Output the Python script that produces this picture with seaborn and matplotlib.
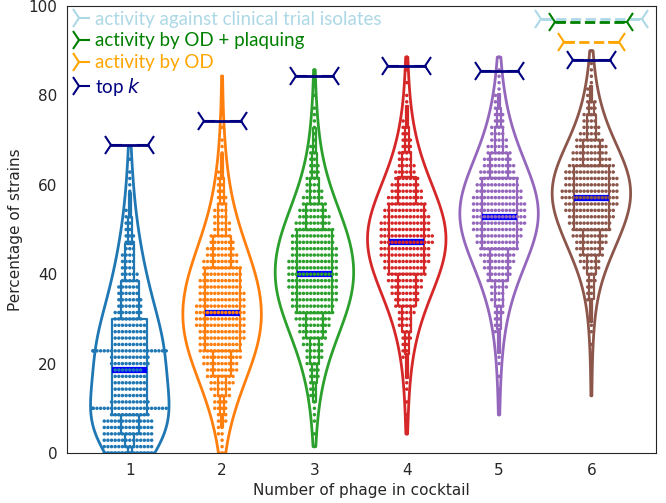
import numpy as np
import pandas as pd
import matplotlib
matplotlib.use("Agg")
import matplotlib.pyplot as plt
from matplotlib.lines import Line2D
import seaborn as sns

# 每组鸡尾酒覆盖的菌株数（占 n_strains 的比例），按 k 计数
n_strains = 70
cocktail_sizes = ["1", "2", "3", "4", "5", "6"]
k_start = [0, 0, 1, 3, 6, 9]

counts_1 = [14, 14, 14, 14, 14, 14, 11, 22, 11, 9, 9, 9, 9, 8,
            11, 11, 22, 9, 9, 9, 9,
            8, 8, 7, 7, 6, 6, 5, 5, 4, 4, 4, 3, 3, 3, 2, 2, 2, 2,
            1, 1, 1, 1, 1, 1, 0, 1, 0, 1]
counts_2 = [1, 1, 1, 2, 2, 3, 3, 4, 4, 5, 6, 7, 8, 9, 10, 11, 12, 12, 13, 13,
            14, 14, 14, 14, 13, 13, 12, 12, 11, 11, 10, 9, 8, 7, 6, 5, 5, 4, 4, 3,
            3, 2, 2, 2, 2, 1, 1, 1, 1, 1, 0, 1, 0, 1, 0, 0, 0, 0, 0, 1]
counts_3 = [1, 0, 1, 0, 1, 1, 1, 1, 2, 2, 2, 3, 3, 4, 5, 5, 6, 7, 8, 9,
            10, 11, 12, 13, 13, 14, 14, 14, 14, 14, 13, 13, 12, 12, 11, 10, 9, 8, 7, 6,
            5, 4, 4, 3, 3, 2, 2, 2, 1, 1, 1, 1, 1, 1, 0, 1, 0, 0, 0, 1]
counts_4 = [1, 0, 0, 1, 0, 1, 0, 1, 1, 1, 1, 1, 2, 2, 2, 3, 3, 4, 4, 5,
            6, 7, 8, 9, 10, 11, 12, 13, 14, 14, 15, 15, 14, 14, 13, 12, 11, 10, 9, 8,
            7, 6, 5, 4, 4, 3, 3, 2, 2, 2, 1, 1, 1, 1, 0, 1, 0, 1, 0, 1]
counts_5 = [1, 0, 0, 0, 1, 0, 1, 0, 1, 1, 1, 1, 1, 2, 2, 2, 3, 3, 4, 4,
            5, 6, 7, 8, 9, 10, 11, 12, 13, 14, 15, 15, 15, 15, 14, 13, 12, 11, 10, 9,
            8, 7, 6, 5, 4, 4, 3, 3, 2, 2, 2, 1, 1, 1, 1, 0, 1]
counts_6 = [1, 0, 0, 0, 0, 1, 0, 0, 1, 0, 1, 1, 1, 1, 1, 2, 2, 2, 3, 3,
            5, 6, 7, 8, 9, 10, 11, 12, 13, 14, 15, 16, 16, 15, 15, 14, 13, 11, 10, 9,
            8, 6, 5, 4, 4, 3, 3, 2, 2, 1, 1, 1, 1, 0, 1]
all_counts = [counts_1, counts_2, counts_3, counts_4, counts_5, counts_6]

# top k 鸡尾酒的覆盖率
top_k = [69.0, 74.2, 84.3, 86.5, 85.5, 88.0]

# 6 个噬菌体时的其他选择方式
other_labels = ["activity against clinical trial isolates",
                "activity by OD + plaquing",
                "activity by OD"]
other_values = [97.2, 96.5, 92.0]
other_colors = ["lightblue", "green", "orange"]
other_halfwidth = [0.55, 0.39, 0.3]
topk_color = "navy"


def build_frame():
    rows = []
    for size, start, counts in zip(cocktail_sizes, k_start, all_counts):
        ks = np.arange(start, start + len(counts))
        vals = np.repeat(100.0 * ks / n_strains, counts)
        for v in vals:
            rows.append((size, v))
    return pd.DataFrame(rows, columns=["n_phage", "pct"])


def draw_bracket(ax, x, y, hw, color, ls, z):
    ax.plot([x - hw, x + hw], [y, y], color=color, ls=ls, lw=2, zorder=z)
    ax.plot([x - hw], [y], marker="4", ms=16, mew=1.5, color=color, ls="none", zorder=z)
    ax.plot([x + hw], [y], marker="3", ms=16, mew=1.5, color=color, ls="none", zorder=z)


def main():
    df = build_frame()
    sns.set_style("white")
    palette = sns.color_palette("tab10", 6)

    fig = plt.figure(figsize=(6.66, 5.03), dpi=100)
    ax = fig.add_axes([0.1006, 0.0994, 0.8844, 0.8886])

    sns.violinplot(data=df, x="n_phage", y="pct", hue="n_phage", palette=palette,
                   fill=False, inner=None, cut=0, density_norm="width", width=0.85,
                   bw_adjust=1.5, linewidth=2, legend=False, ax=ax)
    sns.boxenplot(data=df, x="n_phage", y="pct", hue="n_phage", palette=palette,
                  fill=False, width=0.38, linewidth=1.6, showfliers=False,
                  line_kws=dict(color="blue", linewidth=4.5), legend=False, ax=ax)
    sns.swarmplot(data=df, x="n_phage", y="pct", hue="n_phage", palette=palette,
                  size=2.5, legend=False, ax=ax)

    for i, y in enumerate(top_k):
        draw_bracket(ax, i, y, 0.2, topk_color, "-", 6)
    last = len(cocktail_sizes) - 1
    for j in range(len(other_values)):
        draw_bracket(ax, last, other_values[j], other_halfwidth[j], other_colors[j], "--", 5 + j)

    ax.set_xlim(-0.68, 5.7)
    ax.set_ylim(0, 100)
    ax.set_yticks([0, 20, 40, 60, 80, 100])
    ax.tick_params(labelsize=11)
    ax.set_xlabel("Number of phage in cocktail", fontsize=11)
    ax.set_ylabel("Percentage of strains", fontsize=11)

    handles = []
    labels = other_labels + ["top $k$"]
    colors = other_colors + [topk_color]
    for c in colors:
        handles.append(Line2D([], [], ls="none", marker="4", ms=16, mew=1.5, color=c))
    leg = ax.legend(handles, labels, loc="upper left", frameon=False,
                    handlelength=0.8, handletextpad=0.45, labelspacing=0.25,
                    borderaxespad=0.1, borderpad=0.15,
                    prop={"family": ["Lato", "DejaVu Sans"], "size": 13.5})
    for t, c in zip(leg.get_texts(), colors):
        t.set_color(c)

    fig.savefig("out.png", dpi=100)


if __name__ == "__main__":
    main()
